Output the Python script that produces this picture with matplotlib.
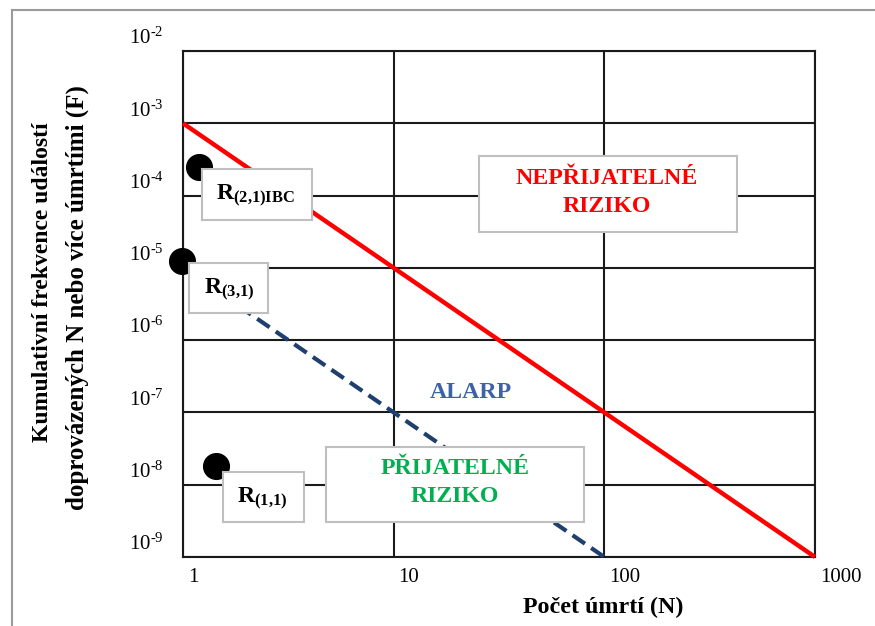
import matplotlib
matplotlib.use("Agg")
import matplotlib.pyplot as plt
import matplotlib.transforms as mtransforms
from matplotlib.patches import Rectangle
from matplotlib.lines import Line2D

# ---------------- data ----------------
x_ticks = [1, 10, 100, 1000]
x_tick_labels = ["1", "10", "100", "1000"]
y_ticks = [1e-2, 1e-3, 1e-4, 1e-5, 1e-6, 1e-7, 1e-8, 1e-9]
y_tick_labels = [r"$10^{\text{-}2}$", r"$10^{\text{-}3}$", r"$10^{\text{-}4}$",
                 r"$10^{\text{-}5}$", r"$10^{\text{-}6}$", r"$10^{\text{-}7}$",
                 r"$10^{\text{-}8}$", r"$10^{\text{-}9}$"]

unacceptable_N = [1, 1000]
unacceptable_F = [1e-3, 1e-9]
alarp_N = [1, 100]
alarp_F = [1e-5, 1e-9]

risk_names = ["R(2,1)IBC", "R(3,1)", "R(1,1)"]
risk_N = [1.19, 0.99, 1.43]
risk_F = [2.5e-4, 1.24e-5, 1.8e-8]
risk_texts = [r"$\mathbf{R_{(2{,}1)IBC}}$", r"$\mathbf{R_{(3{,}1)}}$",
              r"$\mathbf{R_{(1{,}1)}}$"]

# ---------------- style ----------------
plt.rcParams["font.family"] = ["Liberation Serif", "DejaVu Serif"]
plt.rcParams["mathtext.fontset"] = "custom"
plt.rcParams["mathtext.rm"] = "Liberation Serif"
plt.rcParams["mathtext.it"] = "Liberation Serif"
plt.rcParams["mathtext.bf"] = "Liberation Serif:bold"

W, H = 875, 626
fig = plt.figure(figsize=(W / 100, H / 100), dpi=100)
fig.patch.set_facecolor("white")

L, R, T, B = 183, 815, 51, 557
ax = fig.add_axes([L / W, 1 - B / H, (R - L) / W, (B - T) / H])
ax.set_xscale("log")
ax.set_yscale("log")
ax.set_xlim(1, 1000)
ax.set_ylim(1e-9, 1e-2)

grid_color = "#1a1a1a"
ax.grid(True, which="major", color=grid_color, lw=1.5, zorder=1)
ax.minorticks_off()
for s in ax.spines.values():
    s.set_color(grid_color)
    s.set_linewidth(1.5)

ax.set_xticks(x_ticks)
ax.set_xticklabels(x_tick_labels, fontsize=15, ha="left")
ax.set_yticks(y_ticks)
ax.set_yticklabels(y_tick_labels, fontsize=15)
ax.tick_params(axis="both", length=0)
ax.tick_params(axis="x", pad=8)
ax.tick_params(axis="y", pad=14)

xoff = mtransforms.ScaledTranslation(5 / 100, 0, fig.dpi_scale_trans)
for lab in ax.get_xticklabels():
    lab.set_transform(lab.get_transform() + xoff)
yoff = mtransforms.ScaledTranslation(0, 15 / 100, fig.dpi_scale_trans)
for lab in ax.get_yticklabels():
    lab.set_transform(lab.get_transform() + yoff)

# lines
ax.plot(unacceptable_N, unacceptable_F, color="#FF0000", lw=3.2,
        solid_capstyle="butt", zorder=3, clip_on=False)
ax.plot(alarp_N, alarp_F, color="#1F3F6E", lw=3.0, dashes=(3.6, 1.8),
        zorder=3, clip_on=False)

# risk points
ax.plot(risk_N, risk_F, "o", color="black", ms=18.5, zorder=4, clip_on=False,
        linestyle="none")

# boxes (axes coords)
def box(x0, y0, w, h):
    ax.add_patch(Rectangle((x0, y0), w, h, transform=ax.transAxes,
                           facecolor="white", edgecolor="#BFBFBF", lw=1.5,
                           zorder=5, clip_on=False))

def ax_xy(px, py):
    return (px - L) / (R - L), (B - py) / (B - T)

def pbox(x0, y0, x1, y1):
    ax0, ay1 = ax_xy(x0, y0)
    ax1, ay0 = ax_xy(x1, y1)
    box(ax0, ay0, ax1 - ax0, ay1 - ay0)

pbox(479, 156, 737, 232)   # NEPRIJATELNE
pbox(326, 447, 584, 522)   # PRIJATELNE
pbox(202, 169, 312, 220)   # R(2,1)IBC
pbox(189, 263, 268, 313)   # R(3,1)
pbox(223, 472, 304, 522)   # R(1,1)

# risk labels
label_px = [(216, 196), (204, 290), (237, 499)]
for txt, (px, py) in zip(risk_texts, label_px):
    xa, ya = ax_xy(px, py)
    ax.text(xa, ya, txt, transform=ax.transAxes, fontsize=17, ha="left",
            va="center", zorder=6, color="black")

def region_text(px, py, s, color):
    xa, ya = ax_xy(px, py)
    ax.text(xa, ya, s, transform=ax.transAxes, fontsize=17.2,
            fontweight="bold", color=color, ha="center", va="center",
            zorder=6)

region_text(607, 178, "NEPŘIJATELNÉ", "#FF0000")
region_text(607, 207, "RIZIKO", "#FF0000")
region_text(455, 468, "PŘIJATELNÉ", "#00B050")
region_text(455, 497, "RIZIKO", "#00B050")
region_text(471, 393, "ALARP", "#3D62A6")

# axis titles
ax.set_xlabel("Počet úmrtí (N)", fontsize=17.3, fontweight="bold")
ax.xaxis.set_label_coords((603 - L) / (R - L), (B - 597) / (B - T))
fig.text(43 / W, 1 - 282 / H, "Kumulativní frekvence událostí", rotation=90,
         fontsize=17, fontweight="bold", ha="center", va="center")
fig.text(77 / W, 1 - 298 / H, "doprovázených N nebo více úmrtími (F)",
         rotation=90, fontsize=18, fontweight="bold", ha="center",
         va="center")

# outer frame
frame_c = "#9a9a9a"
fig.add_artist(Line2D([12 / W, 1.0], [1 - 10 / H, 1 - 10 / H],
                      transform=fig.transFigure, color=frame_c, lw=1.5))
fig.add_artist(Line2D([12 / W, 12 / W], [1 - 10 / H, 0.0],
                      transform=fig.transFigure, color=frame_c, lw=1.5))

fig.savefig("out.png", dpi=100, facecolor="white")
